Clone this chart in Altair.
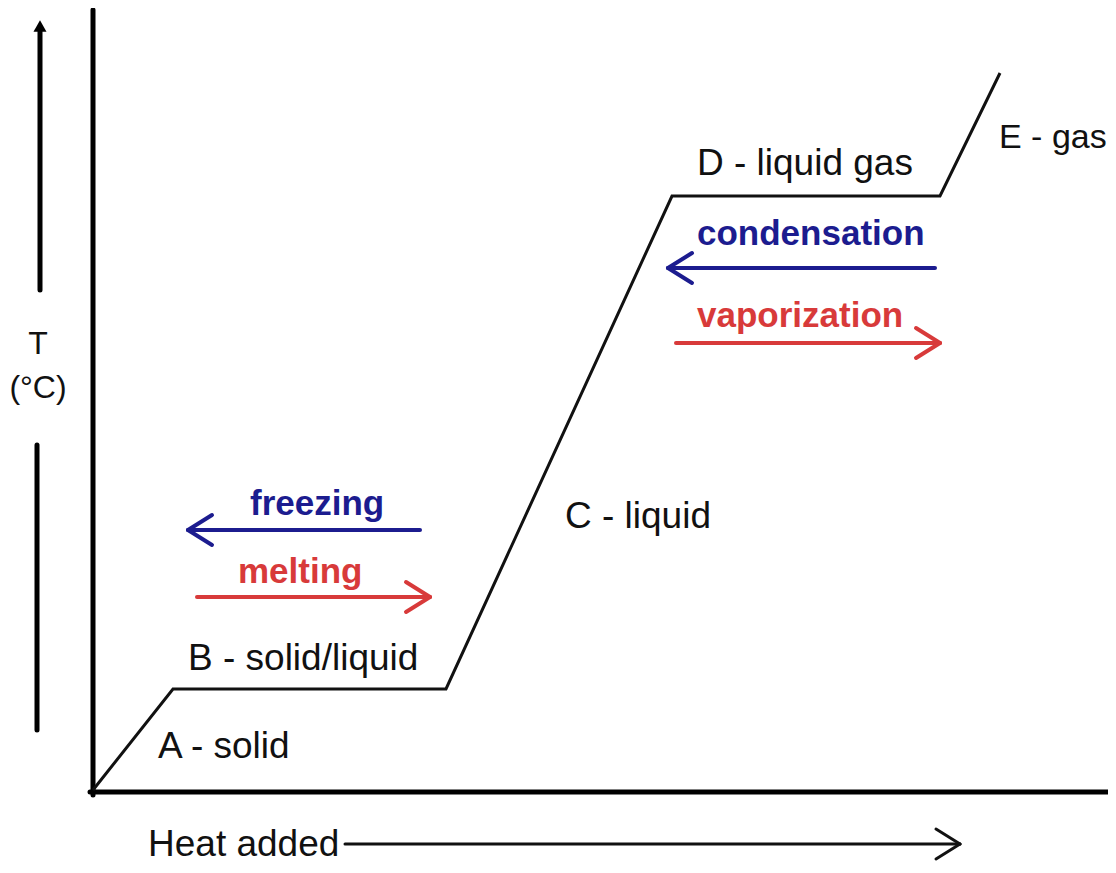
import altair as alt
import pandas as pd

# ---- data (pixel-like diagram coordinates, y grows downward) ----
curve_x = [93, 173, 446, 672, 940, 1000]
curve_y = [790, 689, 689, 196, 196, 73]

label_text = ["A - solid", "B - solid/liquid", "C - liquid", "D - liquid gas",
              "condensation", "vaporization", "freezing", "melting", "Heat added"]
label_x = [158, 188, 565, 697, 697, 697, 250, 238, 148]
label_y = [758, 670, 528, 175, 245, 327, 515, 583, 856]
label_kind = ["black", "black", "black", "black", "blue", "red", "blue", "red", "black"]

edge_text = ["E - gas"]
edge_text_x = [999]
edge_text_y = [148]

axis_text = ["T", "(°C)"]
axis_text_x = [38, 38]
axis_text_y = [354, 398]

arrow_x1 = [935, 676, 420, 197, 345]
arrow_x2 = [668, 940, 188, 430, 960]
arrow_y = [268, 343, 530, 597, 844]
arrow_kind = ["blue", "red", "blue", "red", "black"]

COLORS = {"black": "#111111", "blue": "#1c1c8f", "red": "#d83a3a"}

# ---- build tables ----
curve = pd.DataFrame({"x": curve_x, "y": curve_y, "o": range(len(curve_x))})
labels = pd.DataFrame({"text": label_text, "x": label_x, "y": label_y,
                       "c": [COLORS[k] for k in label_kind],
                       "k": label_kind})
edge_lbl = pd.DataFrame({"text": edge_text, "x": edge_text_x, "y": edge_text_y})
axis_lbl = pd.DataFrame({"text": axis_text, "x": axis_text_x, "y": axis_text_y})

segs = []
for x1, x2, y, k in zip(arrow_x1, arrow_x2, arrow_y, arrow_kind):
    w = 3 if k == "black" else 4
    segs.append(dict(x=x1, x2=x2, y=y, y2=y, c=COLORS[k], w=w))
    d = 24 if x2 > x1 else -24
    segs.append(dict(x=x2, x2=x2 - d, y=y, y2=y - 15, c=COLORS[k], w=w))
    segs.append(dict(x=x2, x2=x2 - d, y=y, y2=y + 15, c=COLORS[k], w=w))
# frame axes and temperature arrow shafts
segs.append(dict(x=93, x2=93, y=10, y2=795, c="#000000", w=5))
segs.append(dict(x=90, x2=1116, y=792, y2=792, c="#000000", w=5))
segs.append(dict(x=40, x2=40, y=290, y2=30, c="#000000", w=5))
segs.append(dict(x=37, x2=37, y=445, y2=730, c="#000000", w=5))
segs = pd.DataFrame(segs)

xs = alt.Scale(domain=[8, 1108], nice=False, zero=False)
ys = alt.Scale(domain=[8, 865], nice=False, zero=False, reverse=True)
X = lambda f="x": alt.X(f + ":Q", scale=xs, axis=None)
Y = lambda f="y": alt.Y(f + ":Q", scale=ys, axis=None)

rules = alt.Chart(segs).mark_rule(strokeCap="round").encode(
    x=X(), x2="x2:Q", y=Y(), y2="y2:Q",
    color=alt.Color("c:N", scale=None),
    strokeWidth=alt.StrokeWidth("w:Q", scale=None),
)

line = alt.Chart(curve).mark_line(color="#111111", strokeWidth=3).encode(
    x=X(), y=Y(), order="o:Q")

head = alt.Chart(pd.DataFrame({"x": [40], "y": [26]})).mark_point(
    shape="triangle-up", filled=True, color="#000000", size=170, opacity=1
).encode(x=X(), y=Y())

FONT = "Liberation Sans, Arial, sans-serif"
base_text = alt.Chart(labels)
text_black = base_text.transform_filter(alt.datum.k == "black").mark_text(
    align="left", baseline="alphabetic", font=FONT, fontSize=37).encode(
    x=X(), y=Y(), text="text:N", color=alt.Color("c:N", scale=None))
text_col = base_text.transform_filter(alt.datum.k != "black").mark_text(
    align="left", baseline="alphabetic", font=FONT, fontSize=35, fontWeight="bold").encode(
    x=X(), y=Y(), text="text:N", color=alt.Color("c:N", scale=None))
text_edge = alt.Chart(edge_lbl).mark_text(
    align="left", baseline="alphabetic", font=FONT, fontSize=34, color="#111111").encode(
    x=X(), y=Y(), text="text:N")
atext = alt.Chart(axis_lbl).mark_text(align="center", baseline="alphabetic", font=FONT,
                                      fontSize=32, color="#111111").encode(
    x=X(), y=Y(), text="text:N")

chart = alt.layer(rules, line, head, text_black, text_col, text_edge, atext).properties(
    width=1100, height=857, padding=0, background="white",
    autosize=alt.AutoSizeParams(type="none")
).configure_view(stroke=None, strokeWidth=0)

chart.save("out.html", embed_options={"renderer": "svg", "actions": False})
